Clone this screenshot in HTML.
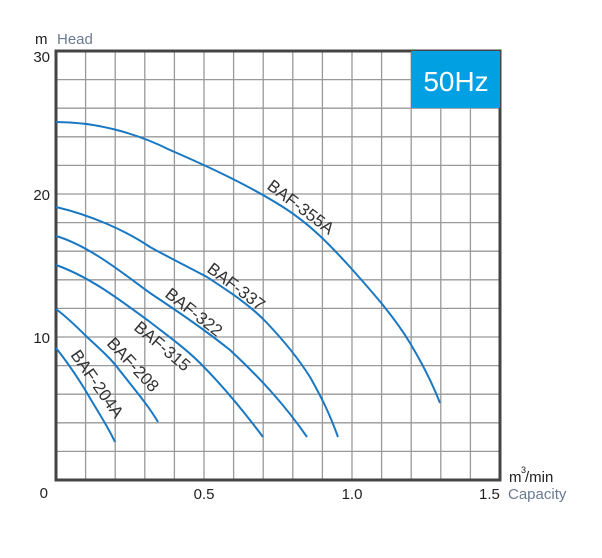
<!DOCTYPE html>
<html><head><meta charset="utf-8"><style>
html,body{margin:0;padding:0;background:#fff;}
svg{display:block;font-family:"Liberation Sans",Arial,sans-serif;}
</style></head><body>
<svg width="602" height="558" viewBox="0 0 602 558" xmlns="http://www.w3.org/2000/svg">
<g stroke="#999" stroke-width="1.3">
<line x1="85.6" y1="51" x2="85.6" y2="480"/><line x1="115.2" y1="51" x2="115.2" y2="480"/><line x1="144.8" y1="51" x2="144.8" y2="480"/><line x1="174.4" y1="51" x2="174.4" y2="480"/><line x1="204" y1="51" x2="204" y2="480"/><line x1="233.6" y1="51" x2="233.6" y2="480"/><line x1="263.2" y1="51" x2="263.2" y2="480"/><line x1="292.8" y1="51" x2="292.8" y2="480"/><line x1="322.4" y1="51" x2="322.4" y2="480"/><line x1="352" y1="51" x2="352" y2="480"/><line x1="381.6" y1="51" x2="381.6" y2="480"/><line x1="411.2" y1="51" x2="411.2" y2="480"/><line x1="440.8" y1="51" x2="440.8" y2="480"/><line x1="470.4" y1="51" x2="470.4" y2="480"/>
<line x1="56" y1="79.6" x2="500" y2="79.6"/><line x1="56" y1="108.2" x2="500" y2="108.2"/><line x1="56" y1="136.8" x2="500" y2="136.8"/><line x1="56" y1="165.4" x2="500" y2="165.4"/><line x1="56" y1="194" x2="500" y2="194"/><line x1="56" y1="222.6" x2="500" y2="222.6"/><line x1="56" y1="251.2" x2="500" y2="251.2"/><line x1="56" y1="279.8" x2="500" y2="279.8"/><line x1="56" y1="308.4" x2="500" y2="308.4"/><line x1="56" y1="337" x2="500" y2="337"/><line x1="56" y1="365.6" x2="500" y2="365.6"/><line x1="56" y1="394.2" x2="500" y2="394.2"/><line x1="56" y1="422.8" x2="500" y2="422.8"/><line x1="56" y1="451.4" x2="500" y2="451.4"/>
</g>
<rect x="56" y="51" width="444" height="429" fill="none" stroke="#444" stroke-width="3"/>
<rect x="411" y="51" width="89" height="57" fill="#00a0e2"/>
<text x="456" y="91" font-size="28" fill="#fff" text-anchor="middle">50Hz</text>
<g fill="none" stroke="#1a78c2" stroke-width="2">
<path d="M56,122 C100,122 140,135 170,150 C200,163 245,183 283,207 C310,224 330,245 350,267 C375,295 395,318 410,343 C425,368 433,385 440,403"/>
<path d="M56,207 C90,215 125,230 150,247 C170,258 190,268 207,277 C230,292 250,305 267,323 C285,342 298,358 310,377 C323,400 330,415 338,437"/>
<path d="M56,236 C90,246 125,275 150,293 C180,313 205,330 230,350 C260,378 285,405 307,437"/>
<path d="M56,265 C90,277 120,300 150,322 C168,336 185,348 200,363 C225,388 245,413 263,437"/>
<path d="M56,309 C68,318 78,328 87,337 C100,349 110,358 117,367 C135,390 148,405 158,422"/>
<path d="M56,348 C68,363 78,378 87,393 C98,412 107,425 115,442"/>
</g>
<g fill="#333" font-size="17">
<text transform="translate(266,188) rotate(37)">BAF-355A</text>
<text transform="translate(206,271) rotate(37)">BAF-337</text>
<text transform="translate(164,296) rotate(38)">BAF-322</text>
<text transform="translate(133,329) rotate(40)">BAF-315</text>
<text transform="translate(106,344) rotate(47)">BAF-208</text>
<text transform="translate(70,355) rotate(55)">BAF-204A</text>
</g>
<g font-size="15" fill="#222">
<text x="35" y="44">m</text>
<text x="57" y="44" fill="#6a7a90">Head</text>
<text x="50" y="62" text-anchor="end">30</text>
<text x="50" y="200" text-anchor="end">20</text>
<text x="50" y="343" text-anchor="end">10</text>
<text x="48" y="498" text-anchor="end">0</text>
<text x="204" y="499" text-anchor="middle">0.5</text>
<text x="352" y="499" text-anchor="middle">1.0</text>
<text x="479" y="499">1.5</text>
<text x="508" y="499" fill="#6a7a90">Capacity</text>
<text x="509" y="482">m</text>
<text x="521" y="473" font-size="9">3</text>
<text x="525" y="482">/min</text>
</g>
</svg>
</body></html>
